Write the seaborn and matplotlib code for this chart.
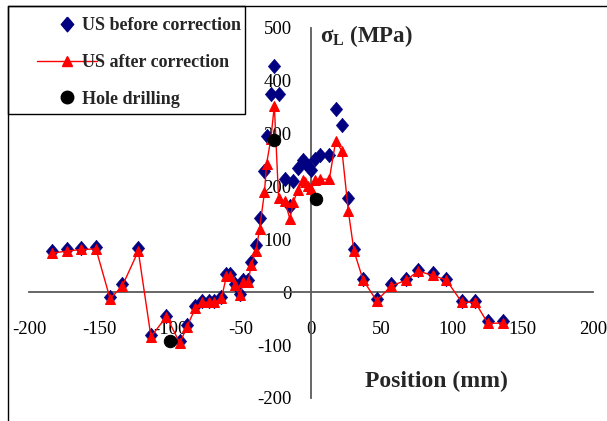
import matplotlib
matplotlib.use("Agg")
import matplotlib.pyplot as plt
from matplotlib.lines import Line2D
from matplotlib.patches import Rectangle
import seaborn as sns
import pandas as pd

# positions (mm) and longitudinal stress (MPa)
pos = [-184, -173, -163, -152.5, -142.5, -134, -122.5, -113.5, -102.5, -93,
       -88, -82, -77.5, -72.5, -68.5, -63.5, -60, -57.5, -54, -50.5,
       -48, -44.5, -42.5, -39, -36.5, -33, -31.5, -28.5, -26, -23,
       -18.5, -15, -12.5, -9.5, -6, -4, -2, 0, 2.5, 6.5,
       13, 17.5, 22, 26.5, 30.5, 37, 46.5, 57, 67.5, 76,
       86.5, 96, 107, 116.5, 125.5, 136]

us_before = [78, 81, 84, 86, -9, 15, 83, -81, -44, -92,
             -62, -26, -16, -16, -16, -8, 34, 34, 16, -3,
             23, 23, 57, 90, 141, 229, 295, 376, 428, 376,
             214, 164, 210, 235, 251, 245, 238, 232, 252, 260,
             259, 347, 316, 179, 81, 26, -13, 15, 26, 43,
             36, 26, -16, -16, -55, -54]

us_after = [74, 78, 81, 82, -12, 11, 78, -84, -46, -96,
            -65, -30, -19, -19, -19, -11, 30, 30, 13, -6,
            19, 19, 52, 78, 120, 189, 243, 290, 353, 178,
            172, 139, 170, 194, 212, 208, 202, 195, 213, 214,
            214, 286, 267, 153, 78, 23, -16, 12, 23, 40,
            32, 23, -19, -19, -59, -58]

hole_pos = [-100, -26.5, 3.5]
hole_val = [-93, 289, 176]

labels = ["US before correction", "US after correction", "Hole drilling"]
x_ticks = list(range(-200, 201, 50))
y_ticks = list(range(-200, 501, 100))

sns.set_style("white")
plt.rcParams['font.family'] = ['Liberation Serif', 'DejaVu Serif']
plt.rcParams['mathtext.fontset'] = 'custom'
plt.rcParams['mathtext.rm'] = 'Liberation Serif'
plt.rcParams['mathtext.bf'] = 'Liberation Serif:bold'
plt.rcParams['mathtext.it'] = 'Liberation Serif:italic'
plt.rcParams['axes.unicode_minus'] = False

W, H = 607, 421
fig = plt.figure(figsize=(W / 100, H / 100), dpi=100)
ax = fig.add_axes([29 / W, 1 - 398 / H, (593 - 29) / W, (398 - 28) / H])

df = pd.DataFrame({"pos": pos, "before": us_before, "after": us_after})

diamond = [(0, 1), (0.85, 0), (0, -1), (-0.85, 0), (0, 1)]
navy = "#000080"

sns.scatterplot(data=df, x="pos", y="before", marker=diamond, s=110, color=navy,
                edgecolor=navy, linewidth=0.4, ax=ax, zorder=3, legend=False)
sns.lineplot(data=df, x="pos", y="after", color="red", lw=1, marker="^", markersize=7.5,
             markeredgecolor="red", estimator=None, sort=False, ax=ax, zorder=4)
sns.scatterplot(x=hole_pos, y=hole_val, marker="o", s=80, color="black",
                edgecolor="black", ax=ax, zorder=5, legend=False)

ax.set_xlim(-200, 200)
ax.set_ylim(-200, 500)
ax.set_xlabel("")
ax.set_ylabel("")
ax.set_xticks(x_ticks)
ax.set_yticks(y_ticks)

axis_col = "#5a5a5a"
for s in ["top", "right"]:
    ax.spines[s].set_visible(False)
ax.spines["left"].set_position(("data", 0))
ax.spines["bottom"].set_position(("data", 0))
ax.spines["left"].set_bounds(-200, 500)
ax.spines["bottom"].set_bounds(-200, 200)
for s in ["left", "bottom"]:
    ax.spines[s].set_color(axis_col)
    ax.spines[s].set_linewidth(1.3)
ax.tick_params(axis="x", direction="out", length=6, width=1.2, color=axis_col,
               pad=15, labelsize=13.5, labelcolor="black")
ax.tick_params(axis="y", direction="out", length=6, width=1.2, color=axis_col,
               pad=8, labelsize=13.5, labelcolor="black")
ax.patch.set_visible(False)

# legend without its own frame, boxed separately
h1 = Line2D([], [], ls="none", marker=diamond, ms=10.5, color=navy)
h2 = Line2D([], [], color="red", lw=1, marker="^", ms=7.5)
h3 = Line2D([], [], ls="none", marker="o", ms=9, color="black")
fig.legend([h1, h2, h3], labels, loc="upper left", bbox_to_anchor=(37 / W, 1 - 17 / H),
           frameon=False, borderpad=0, borderaxespad=0, handlelength=3.3,
           handletextpad=-0.8, labelspacing=1.1, prop={"weight": "bold", "size": 13})
fig.add_artist(Rectangle((8 / W, 1 - 114 / H), (245 - 8) / W, (114 - 6) / H,
                         transform=fig.transFigure, fill=False, edgecolor="black", lw=1))

# outer frame lines (left and top)
fig.add_artist(Line2D([8 / W, 8 / W], [0, 1 - 6 / H], color="black", lw=1))
fig.add_artist(Line2D([8 / W, 1], [1 - 6 / H, 1 - 6 / H], color="black", lw=1))

fig.text(320 / W, 1 - 36 / H, r"$\mathbf{\sigma_L}$ (MPa)", fontsize=16.5,
         fontweight="bold", va="center", ha="left")
fig.text(436 / W, 1 - 381 / H, "Position (mm)", fontsize=17, fontweight="bold",
         va="center", ha="center")

fig.savefig("out.png", dpi=100)
